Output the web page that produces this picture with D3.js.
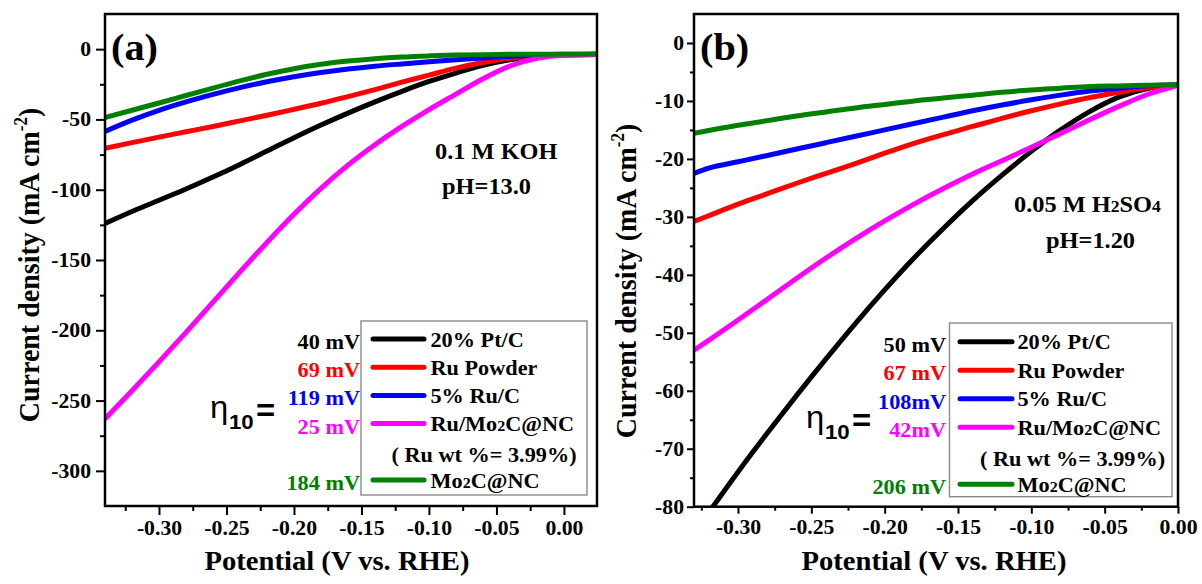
<!DOCTYPE html>
<html><head><meta charset="utf-8">
<script src="https://cdn.jsdelivr.net/npm/d3@7"></script>
<style>body{margin:0;background:#fff}</style>
</head><body>
<svg id="c" width="1202" height="584" xmlns="http://www.w3.org/2000/svg"></svg>
<script>
// ---------- DATA ----------
const seriesNames = ["20% Pt/C", "Ru Powder", "5% Ru/C", "Ru/Mo2C@NC", "Mo2C@NC"];
const noteText = "( Ru wt %= 3.99%)";

// Panel (a) 0.1 M KOH
const potentialA = [-0.34, -0.32, -0.30, -0.28, -0.26, -0.24, -0.22, -0.20, -0.18, -0.16, -0.14, -0.12, -0.10, -0.08, -0.06, -0.04, -0.02, 0.00, 0.0245];
const ptcA     = [-124, -115.5, -107.5, -99.5, -91, -82, -72.5, -63, -54, -45.5, -37.5, -30, -23, -17, -11.5, -7.5, -5, -4, -3.8];
const ruPowA   = [-70.5, -66.5, -62.6, -58.8, -55, -51, -47, -42.8, -38.5, -33.8, -28.8, -23.5, -18.5, -13.5, -9.5, -6.5, -4.8, -4, -3.8];
const ruCA     = [-58.5, -50.5, -43.5, -37.5, -32.2, -27.4, -23.2, -19.6, -16.6, -14.1, -12.1, -10.5, -9, -7.6, -6.3, -5.1, -4.3, -4, -3.8];
const ruMoA    = [-263, -243, -222.5, -201.5, -180, -158.5, -137.5, -117.5, -99, -82.5, -68, -55, -43, -32, -21, -12, -6.5, -4.3, -3.8];
const moA      = [-48.6, -43.5, -38.3, -33, -27.7, -22.6, -17.9, -13.9, -10.8, -8.5, -6.8, -5.6, -4.8, -4.2, -3.9, -3.7, -3.6, -3.5, -3.3];
const etaA     = ["40 mV", "69 mV", "119 mV", "25 mV", "184 mV"];
const yTicksA  = [0, -50, -100, -150, -200, -250, -300];
const xTicksA  = [-0.30, -0.25, -0.20, -0.15, -0.10, -0.05, 0.00];

// Panel (b) 0.05 M H2SO4
const potentialB = [-0.33, -0.32, -0.30, -0.28, -0.26, -0.24, -0.22, -0.20, -0.18, -0.16, -0.14, -0.12, -0.10, -0.08, -0.06, -0.04, -0.02, 0.00];
const ptcB     = [-84.5, -81, -74, -67.3, -60.8, -54.5, -48.4, -42.6, -37.1, -32, -27.2, -22.8, -18.7, -15, -11.8, -9.3, -7.8, -7.3];
const ruPowB   = [-30.8, -29.8, -27.8, -26, -24.2, -22.5, -20.8, -19, -17.3, -15.8, -14.4, -13, -11.7, -10.5, -9.4, -8.5, -7.7, -7.2];
const ruCB     = [-22.5, -21.6, -20.5, -19.4, -18.3, -17.2, -16.1, -15, -13.9, -12.8, -11.7, -10.7, -9.8, -9, -8.3, -7.8, -7.4, -7.2];
const ruMoB    = [-53, -51.3, -47.8, -44.2, -40.6, -37.1, -33.8, -30.7, -27.8, -25.1, -22.6, -20.3, -18, -15.6, -13.2, -10.9, -8.8, -7.3];
const moB      = [-15.6, -15.1, -14.2, -13.4, -12.6, -11.9, -11.2, -10.6, -10, -9.5, -9, -8.5, -8.1, -7.8, -7.5, -7.4, -7.3, -7.2];
const etaB     = ["50 mV", "67 mV", "108mV", "42mV", "206 mV"];
const yTicksB  = [0, -10, -20, -30, -40, -50, -60, -70, -80];
const xTicksB  = [-0.30, -0.25, -0.20, -0.15, -0.10, -0.05, 0.00];

// ---------- STYLE ----------
const colors = ["#000000", "#ff0000", "#0000ff", "#ff00ff", "#008000"];
const SERIF = "'Liberation Serif','Times New Roman',serif";
const SANS = "'Liberation Sans',Arial,sans-serif";
const S = 1.06; // horizontal stretch of the original figure text

const svg = d3.select("#c");

function formula(t, s, size) {
  const parts = []; let buf = "";
  for (let i = 0; i < s.length; i++) {
    const c = s[i];
    if (/\d/.test(c) && i > 0 && /[A-Za-z]/.test(s[i - 1])) {
      if (buf) parts.push([buf, false]); buf = ""; parts.push([c, true]);
    } else buf += c;
  }
  if (buf) parts.push([buf, false]);
  parts.forEach(([p, small]) => t.append("tspan").attr("font-size", small ? size * 0.72 : null).text(p));
}
function txt(g, x, y, s, o = {}) {
  const size = o.size || 21;
  const t = g.append("text")
    .attr("transform", `translate(${x},${y}) scale(${S},1)`)
    .attr("font-family", o.family || SERIF).attr("font-size", size)
    .attr("font-weight", o.weight || "bold").attr("fill", o.fill || "#000")
    .attr("text-anchor", o.anchor || "start")
    .style("white-space", "pre");
  if (o.raw) t.text(s); else formula(t, s, size);
  return t;
}

function panel(cfg) {
  const g = svg.append("g");
  const x = d3.scaleLinear().domain(cfg.xDom).range([cfg.x0, cfg.x1]);
  const y = d3.scaleLinear().domain(cfg.yDom).range([cfg.y1, cfg.y0]);
  const id = "clip" + cfg.key;
  svg.append("defs").append("clipPath").attr("id", id).append("rect")
    .attr("x", cfg.x0).attr("y", cfg.y0).attr("width", cfg.x1 - cfg.x0).attr("height", cfg.y1 - cfg.y0);

  // curves
  const line = d3.line().x((d, i) => x(cfg.pot[i])).y(d => y(d)).curve(d3.curveMonotoneX);
  const lg = g.append("g").attr("clip-path", `url(#${id})`);
  cfg.series.forEach((s, i) => {
    lg.append("path").attr("d", line(s)).attr("fill", "none").attr("stroke", colors[i])
      .attr("stroke-width", 5).attr("stroke-linejoin", "round").attr("stroke-linecap", "round");
  });

  // axes
  const fmtX = d => d.toFixed(2);
  const xa = g.append("g").attr("transform", `translate(0,${cfg.y1})`)
    .call(d3.axisBottom(x).tickValues(cfg.xTicks).tickSize(cfg.tMaj).tickPadding(5.5).tickFormat(fmtX));
  const xm = g.append("g").attr("transform", `translate(0,${cfg.y1})`)
    .call(d3.axisBottom(x).tickValues(cfg.xMinor).tickSize(cfg.tMin).tickFormat(""));
  const ya = g.append("g").attr("transform", `translate(${cfg.x0},0)`)
    .call(d3.axisLeft(y).tickValues(cfg.yTicks).tickSize(cfg.tMaj).tickPadding(cfg.yPad).tickFormat(d => String(d)));
  const ym = g.append("g").attr("transform", `translate(${cfg.x0},0)`)
    .call(d3.axisLeft(y).tickValues(cfg.yMinor).tickSize(cfg.tMin).tickFormat(""));
  [xa, xm, ya, ym].forEach(a => {
    a.select(".domain").remove();
    a.selectAll("line").attr("stroke", "#000").attr("stroke-width", 2);
    a.selectAll("text").attr("font-family", SERIF).attr("font-size", 20.5).attr("font-weight", "bold")
      .attr("fill", "#000");
  });
  ya.selectAll("text").each(function () {
    const t = d3.select(this); const xx = +t.attr("x");
    t.attr("x", null).attr("transform", `translate(${xx},0) scale(${S},1)`);
  });
  xa.selectAll("text").attr("transform", `scale(${S},1)`);

  // frame
  g.append("rect").attr("x", cfg.x0).attr("y", cfg.y0).attr("width", cfg.x1 - cfg.x0).attr("height", cfg.y1 - cfg.y0)
    .attr("fill", "none").attr("stroke", "#000").attr("stroke-width", 2.5);

  // panel label & condition
  txt(g, cfg.x0 + 6, 60, cfg.tag, { size: 38, raw: true });
  txt(g, cfg.c1[0], cfg.c1[1], cfg.cond1, { size: 23 });
  txt(g, cfg.c2[0], cfg.c2[1], cfg.cond2, { size: 23 });

  // legend
  const L = cfg.leg;
  g.append("rect").attr("x", L.x0).attr("y", L.y0).attr("width", L.x1 - L.x0).attr("height", L.y1 - L.y0)
    .attr("fill", "#fff").attr("stroke", "#8a8a8a").attr("stroke-width", 1.4);
  const rowIdx = [0, 1, 2, 3, 5];
  seriesNames.forEach((n, i) => {
    const ry = L.r0 + rowIdx[i] * L.step;
    g.append("line").attr("x1", L.lx0).attr("x2", L.lx1).attr("y1", ry).attr("y2", ry)
      .attr("stroke", colors[i]).attr("stroke-width", 5).attr("stroke-linecap", "round");
    txt(g, L.tx, ry + 7.5, n, { size: 21 });
    txt(g, L.ex, ry + 10, cfg.eta[i], { size: 21, anchor: "end", fill: colors[i] });
  });
  txt(g, L.nx, L.r0 + 4 * L.step + 10, noteText, { size: 21, raw: true });

  // eta10 =
  const ex = cfg.etaX, ey = cfg.etaY;
  txt(g, ex, ey, "η", { size: 31, family: SANS, weight: "normal", raw: true });
  txt(g, ex + 19, ey + 11, "10", { size: 21, family: SANS, weight: "bold", raw: true });
  txt(g, ex + 46, ey + 3, "=", { size: 31, family: SANS, weight: "bold", raw: true });

  // axis titles
  txt(g, cfg.xt, 570, "Potential (V vs. RHE)", { size: 27, anchor: "middle", raw: true });
  const yt = g.append("text")
    .attr("transform", `translate(${cfg.ytx},${cfg.yty}) scale(${S},1) rotate(-90)`)
    .attr("font-family", SERIF).attr("font-size", 28).attr("font-weight", "bold").attr("text-anchor", "middle");
  yt.append("tspan").text("Current density (mA cm");
  yt.append("tspan").attr("font-size", 17).attr("dy", -11).text("-2");
  yt.append("tspan").attr("dy", 11).text(")");
}

panel({
  key: "a", tag: "(a)", x0: 105, x1: 597, y0: 14, y1: 506,
  xDom: [-0.34, 0.0245], yDom: [-325, 25],
  pot: potentialA, series: [ptcA, ruPowA, ruCA, ruMoA, moA],
  xTicks: xTicksA, xMinor: [-0.325, -0.275, -0.225, -0.175, -0.125, -0.075, -0.025],
  yTicks: yTicksA, yMinor: [-25, -75, -125, -175, -225, -275],
  tMaj: 9, tMin: 5, yPad: 5,
  cond1: "0.1 M KOH", c1: [435, 159], cond2: "pH=13.0", c2: [442, 194],
  leg: { x0: 361, x1: 587, y0: 321, y1: 495, r0: 339, step: 28.2, lx0: 373, lx1: 424, tx: 430.5, ex: 360, nx: 391.5 },
  eta: etaA, etaX: 210, etaY: 418,
  xt: 337, ytx: 39, yty: 265
});

panel({
  key: "b", tag: "(b)", x0: 694, x1: 1178, y0: 14, y1: 506.7,
  xDom: [-0.33, 0.0], yDom: [-80, 5],
  pot: potentialB, series: [ptcB, ruPowB, ruCB, ruMoB, moB],
  xTicks: xTicksB, xMinor: [-0.325, -0.275, -0.225, -0.175, -0.125, -0.075, -0.025],
  yTicks: yTicksB, yMinor: [-5, -15, -25, -35, -45, -55, -65, -75],
  tMaj: 7, tMin: 4, yPad: 3,
  cond1: "0.05 M H2SO4", c1: [1014, 212], cond2: "pH=1.20", c2: [1046, 248],
  leg: { x0: 949.5, x1: 1172, y0: 323, y1: 496.7, r0: 341.7, step: 28.5, lx0: 960, lx1: 1012, tx: 1017.5, ex: 946, nx: 980 },
  eta: etaB, etaX: 806, etaY: 428,
  xt: 934, ytx: 636, yty: 281
});
</script>
</body></html>
